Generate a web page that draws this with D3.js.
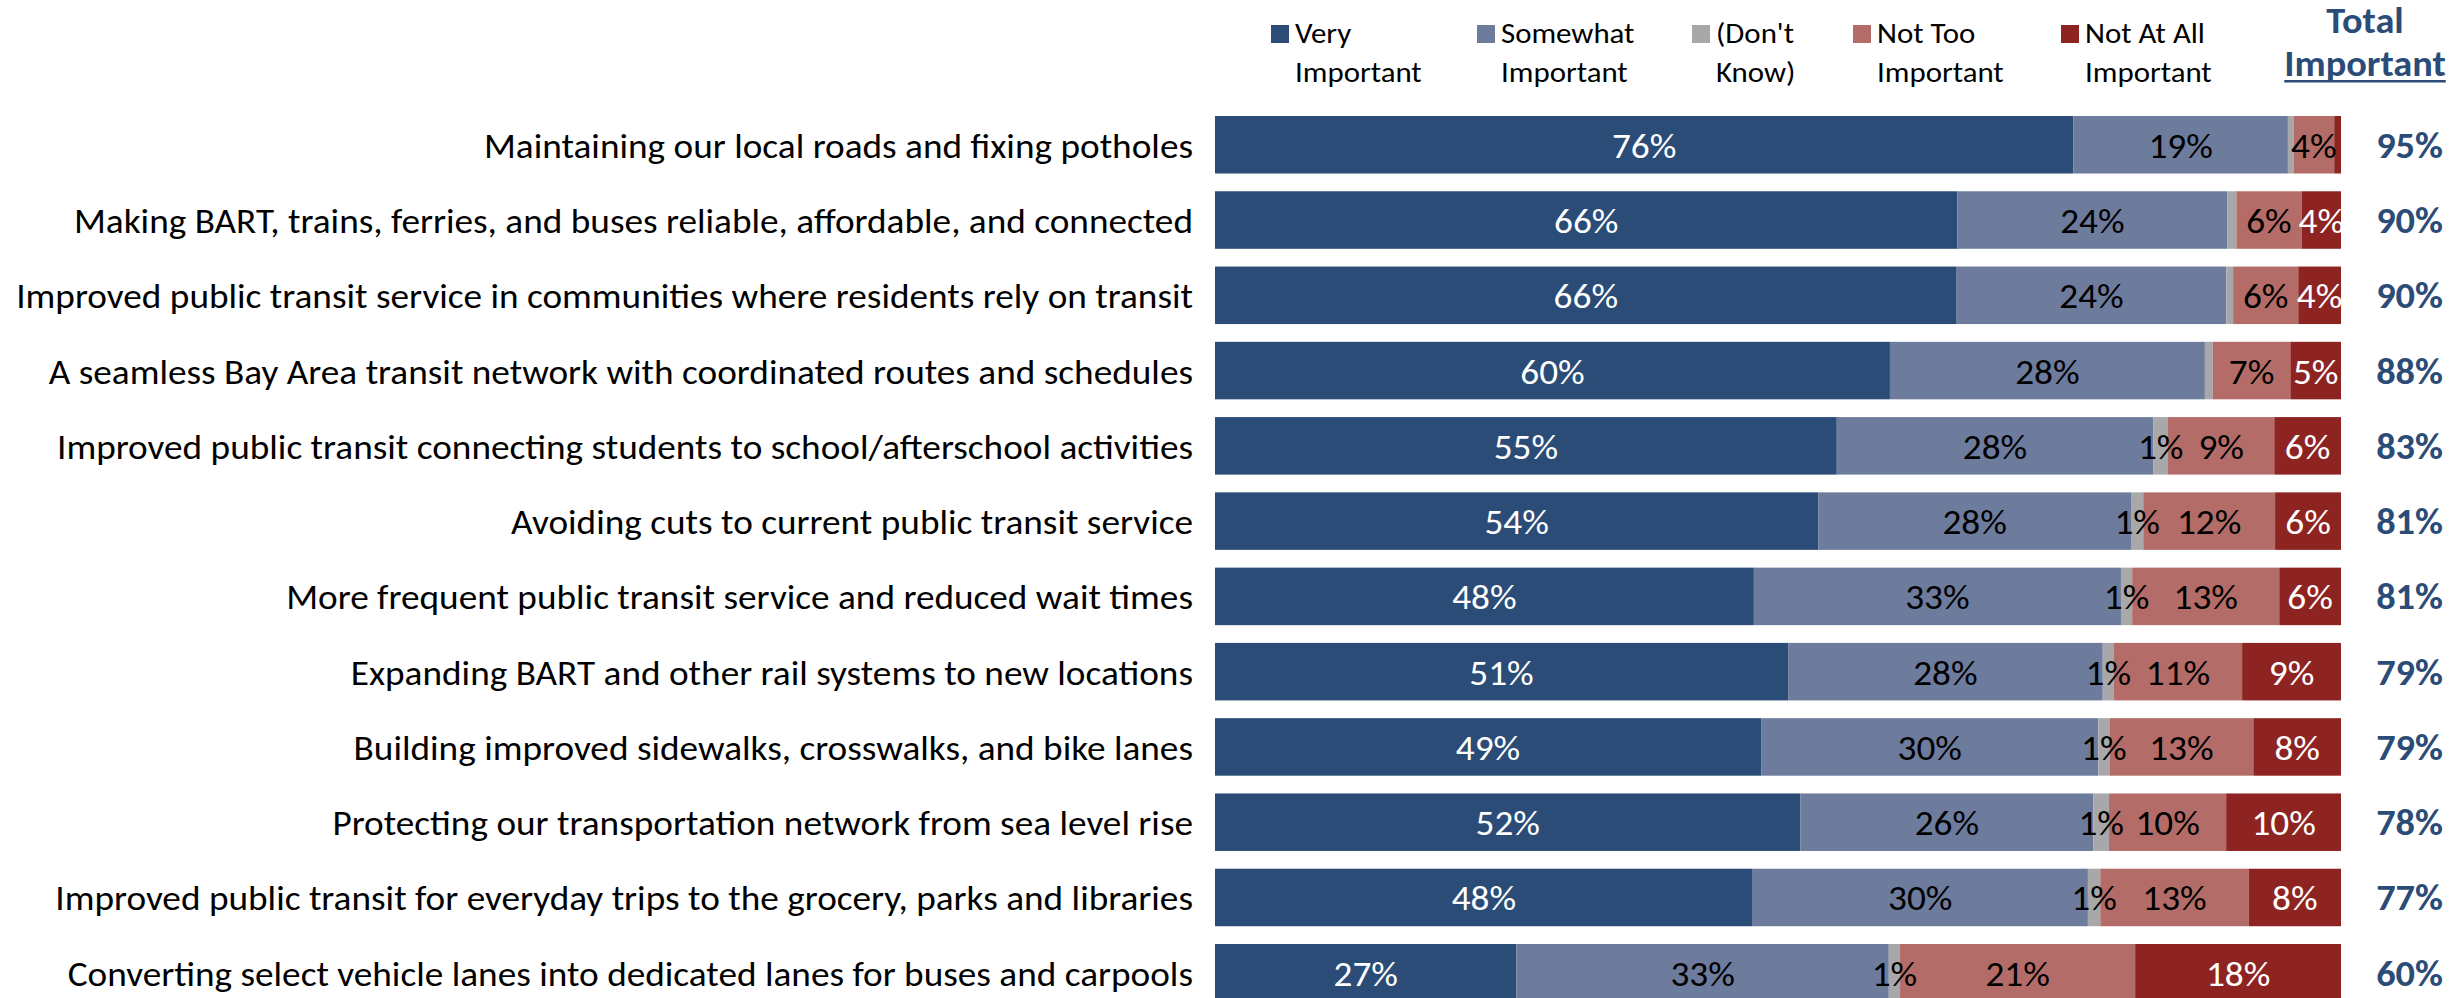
<!DOCTYPE html>
<html>
<head>
<meta charset="utf-8">
<script src="https://cdn.jsdelivr.net/npm/d3@7"></script>
<style>
  html, body { margin: 0; padding: 0; background: #ffffff; overflow: hidden; }
  svg { display: block; }
</style>
</head>
<body>
<svg id="chart" width="2460" height="998"></svg>
<script>
// ---------------- DATA ----------------
const categories = [
  "Maintaining our local roads and fixing potholes",
  "Making BART, trains, ferries, and buses reliable, affordable, and connected",
  "Improved public transit service in communities where residents rely on transit",
  "A seamless Bay Area transit network with coordinated routes and schedules",
  "Improved public transit connecting students to school/afterschool activities",
  "Avoiding cuts to current public transit service",
  "More frequent public transit service and reduced wait times",
  "Expanding BART and other rail systems to new locations",
  "Building improved sidewalks, crosswalks, and bike lanes",
  "Protecting our transportation network from sea level rise",
  "Improved public transit for everyday trips to the grocery, parks and libraries",
  "Converting select vehicle lanes into dedicated lanes for buses and carpools"
];
const seriesKeys = ["very", "somewhat", "dontKnow", "notToo", "notAtAll"];
const seriesLegend = [
  ["Very", "Important"],
  ["Somewhat", "Important"],
  ["(Don't", "Know)"],
  ["Not Too", "Important"],
  ["Not At All", "Important"]
];
const veryImportant     = [76, 66, 66, 60, 55, 54, 48, 51, 48.6, 52, 47.8, 26.8];
const somewhatImportant = [19, 24, 24, 28, 28, 28, 32.7, 28, 30, 26, 29.8, 33.1];
const dontKnow          = [0.5, 0.8, 0.6, 0.7, 1.3, 1.1, 1, 1, 1, 1.4, 1.1, 1];
const notTooImportant   = [3.6, 5.8, 5.8, 6.9, 9.4, 11.8, 13.1, 11.4, 12.8, 10.4, 13.2, 20.9];
const notAtAllImportant = [0.6, 3.5, 3.8, 4.5, 5.9, 5.9, 5.5, 8.8, 7.8, 10.2, 8.2, 18.3];
const totalImportant    = [95, 90, 90, 88, 83, 81, 81, 79, 79, 78, 77, 60];
const totalHeader = ["Total", "Important"];

// ---------------- STYLE ----------------
const colors = ["#2B4C77", "#6D7B9D", "#A8A8AB", "#B36C68", "#8E2421"];
const labelColors = ["#ffffff", "#000000", "#000000", "#000000", "#ffffff"];
const totalColor = "#2B4C77";

const svg = d3.select("#chart");

// font detection
function measure(family, str, size, weight) {
  const t = svg.append("text").attr("font-family", family).attr("font-size", size)
    .attr("font-weight", weight || "normal").text(str);
  const w = t.node().getComputedTextLength();
  t.remove();
  return w;
}
const probe = categories[0];
const candidates = ["Carlito", "Liberation Sans Narrow", "DejaVu Sans Condensed", "Lato"];
let FONT = "Lato";
for (const c of candidates) {
  if (Math.abs(measure("'" + c + "', monospace", probe, 30) - measure("monospace", probe, 30)) > 1) { FONT = c; break; }
}
const capRatio = FONT === "Carlito" ? 0.644 : (FONT === "Lato" ? 0.72 : 0.729);
const fsMain = Math.round(22.5 / capRatio);
const fsLegend = Math.round(18.5 / capRatio);
const fsTotal = Math.round(23 / capRatio);
// horizontal condensation factor so text widths follow the reference's narrow face
const kWidth = 709 / measure("'" + FONT + "'", probe, fsMain);

function condense(sel) {
  sel.each(function () {
    const w = this.getComputedTextLength();
    d3.select(this).attr("textLength", w * kWidth).attr("lengthAdjust", "spacingAndGlyphs");
  });
}

// ---------------- SCALES ----------------
const x = d3.scaleLinear().domain([0, 1]).range([1215, 2341]);
const y = d3.scaleBand().domain(categories).range([116, 1001.5]).paddingInner(0.236).paddingOuter(0);

const rows = categories.map((c, i) => ({
  category: c,
  very: veryImportant[i],
  somewhat: somewhatImportant[i],
  dontKnow: dontKnow[i],
  notToo: notTooImportant[i],
  notAtAll: notAtAllImportant[i],
  total: totalImportant[i]
}));

const stack = d3.stack().keys(seriesKeys).offset(d3.stackOffsetExpand);
const layers = stack(rows);

const g = svg.append("g").attr("font-family", "'" + FONT + "', sans-serif");

// bars
const layerG = g.selectAll("g.layer").data(layers).join("g")
  .attr("class", "layer").attr("fill", (d, i) => colors[i]);
layerG.selectAll("rect").data(d => d).join("rect")
  .attr("x", d => x(d[0]))
  .attr("y", d => y(d.data.category))
  .attr("width", d => Math.max(0, x(d[1]) - x(d[0])))
  .attr("height", y.bandwidth());

// value labels
const textOffset = 13;
const lbl = g.selectAll("g.lbl").data(layers).join("g").attr("class", "lbl")
  .attr("fill", (d, i) => labelColors[i]);
lbl.selectAll("text").data(d => d.map(p => ({ p, key: d.key })).filter(o => o.p.data[o.key] >= 1)).join("text")
  .attr("x", o => (x(o.p[0]) + x(o.p[1])) / 2)
  .attr("y", o => y(o.p.data.category) + y.bandwidth() / 2 + textOffset)
  .attr("text-anchor", "middle")
  .attr("font-size", fsMain)
  .text(o => Math.round(o.p.data[o.key]) + "%")
  .call(condense);

// category labels
g.append("g").selectAll("text").data(rows).join("text")
  .attr("x", x(0) - 22)
  .attr("y", d => y(d.category) + y.bandwidth() / 2 + textOffset)
  .attr("text-anchor", "end")
  .attr("font-size", fsMain)
  .attr("fill", "#000000")
  .text(d => d.category)
  .call(condense);

// totals
const totalX = 2443;
g.append("g").selectAll("text").data(rows).join("text")
  .attr("x", totalX)
  .attr("y", d => y(d.category) + y.bandwidth() / 2 + textOffset)
  .attr("text-anchor", "end")
  .attr("font-size", fsTotal)
  .attr("font-weight", "bold")
  .attr("fill", totalColor)
  .text(d => d.total + "%")
  .call(condense);

// total header
const hdrCenter = 2365;
const hdr = g.append("g").attr("fill", totalColor).attr("font-weight", "bold").attr("font-size", fsTotal);
hdr.append("text").attr("x", hdrCenter).attr("y", 33).attr("text-anchor", "middle").text(totalHeader[0]).call(condense);
const hdr2 = hdr.append("text").attr("x", hdrCenter).attr("y", 76).attr("text-anchor", "middle").text(totalHeader[1]).call(condense);
const hb = hdr2.node().getBBox();
hdr.append("rect").attr("x", hb.x).attr("y", 80).attr("width", hb.width).attr("height", 2.5);

// legend
const legendX = [1271, 1477, 1692, 1853, 2061];
const leg = g.append("g").selectAll("g").data(seriesLegend).join("g")
  .attr("transform", (d, i) => `translate(${legendX[i]},0)`);
leg.append("rect").attr("x", 0).attr("y", 25).attr("width", 18).attr("height", 18)
  .attr("fill", (d, i) => colors[i]);
leg.append("text").attr("x", 24).attr("y", 43).attr("font-size", fsLegend).attr("fill", "#000")
  .text(d => d[0]).call(condense);
leg.append("text").attr("x", 24).attr("y", 82).attr("font-size", fsLegend).attr("fill", "#000")
  .text(d => d[1]).call(condense);
</script>
</body>
</html>
